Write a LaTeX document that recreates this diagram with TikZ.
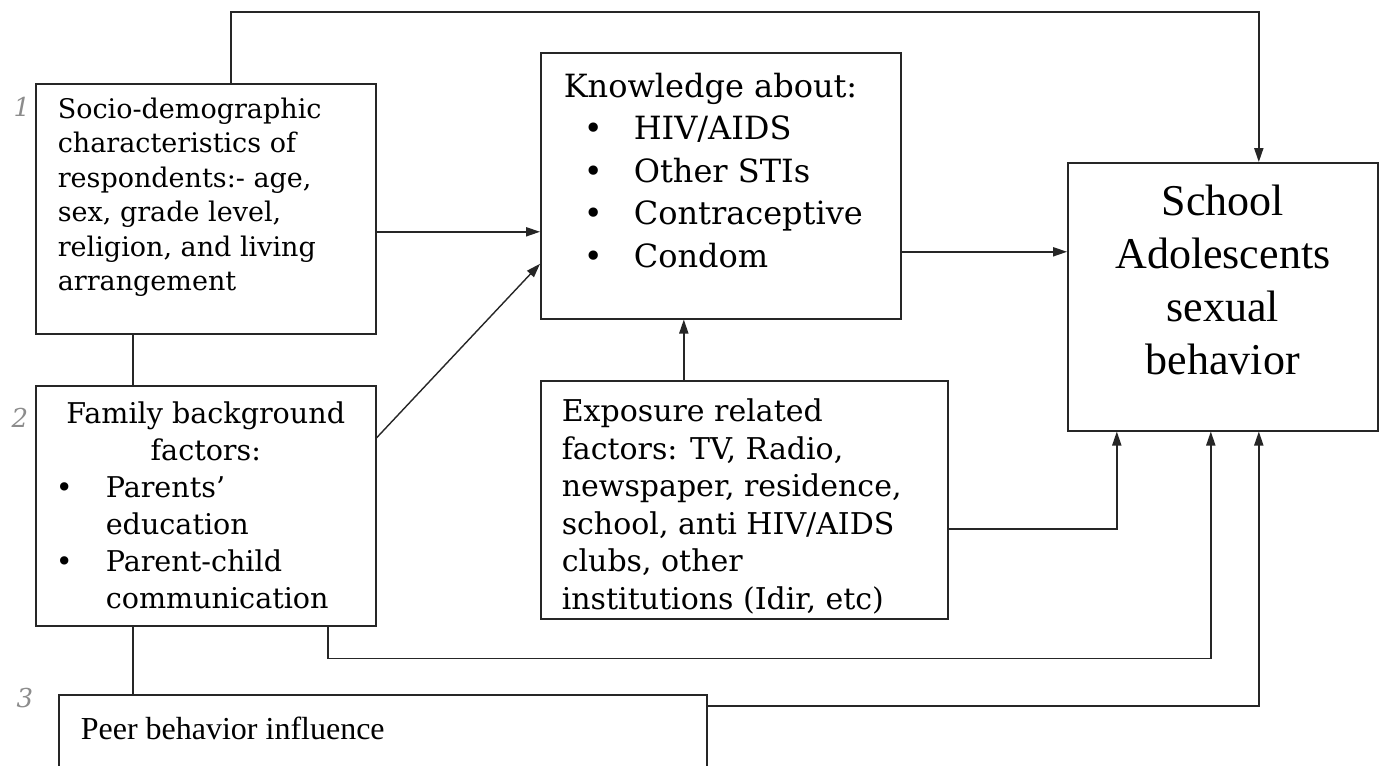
\documentclass[tikz,border=0pt]{standalone}
\usepackage{fontspec}
\setmainfont{DejaVu Serif}
\newfontfamily\timesfont{Liberation Serif}
\usetikzlibrary{arrows.meta,positioning,calc}

\tikzset{
  box/.style={draw=black!85, line width=0.8pt, anchor=north west, inner sep=0pt},
  arr/.style={draw=black!85, line width=0.7pt, -{Triangle[length=7pt,width=4.6pt]}},
  link/.style={draw=black!85, line width=0.7pt},
  hand/.style={text=black!45, font=\itshape\fontsize{13}{13}\selectfont}
}

\begin{document}
\begin{tikzpicture}[x=0.5pt, y=-0.5pt]
\useasboundingbox (0,0) rectangle (1385,765);
\clip (0,0) rectangle (1385,765);
\fill[white] (0,0) rectangle (1385,765);

% factor boxes
\node[box, inner xsep=11pt, inner ysep=7pt] (socio) at (35,83)
  {\parbox[t][111pt][t]{148pt}{\fontsize{13.5}{17.25}\selectfont\raggedright
   Socio-demographic\\ characteristics of\\ respondents:- age,\\ sex, grade level,\\ religion, and living\\ arrangement}};
\node[box, inner xsep=0pt, inner ysep=8pt] (family) at (35,385)
  {\parbox[t][104pt][t]{170pt}{\fontsize{14.3}{18.5}\selectfont\raggedright
   \makebox[170pt]{Family background}\\
   \makebox[170pt]{factors:}\\
   \hspace*{10pt}\makebox[25pt][l]{•}Parents’\\
   \hspace*{35pt}education\\
   \hspace*{10pt}\makebox[25pt][l]{•}Parent-child\\
   \hspace*{35pt}communication}};
\node[box, inner xsep=11pt, inner ysep=11pt] (peer) at (58,694)
  {\parbox[t][78pt][t]{302pt}{\timesfont\fontsize{16}{19}\selectfont\raggedright
   Peer behavior influence}};
\node[box, inner xsep=11.5pt, inner ysep=10pt] (know) at (540,52)
  {\parbox[t][113pt][t]{157pt}{\fontsize{16}{21.25}\selectfont\raggedright
   Knowledge about:\\
   \makebox[35pt][l]{\hspace{10pt}•}HIV/AIDS\\
   \makebox[35pt][l]{\hspace{10pt}•}Other STIs\\
   \makebox[35pt][l]{\hspace{10pt}•}Contraceptive\\
   \makebox[35pt][l]{\hspace{10pt}•}Condom}};
\node[box, inner xsep=10.5pt, inner ysep=9pt] (expo) at (540,380)
  {\parbox[t][101pt][t]{182.5pt}{\fontsize{15}{18.75}\selectfont\raggedright
   Exposure related\\ factors: TV, Radio,\\ newspaper, residence,\\ school, anti HIV/AIDS\\ clubs, other\\ institutions (Idir, etc)}};
\node[box, inner xsep=0pt, inner ysep=11pt] (school) at (1067,162)
  {\parbox[t][112pt][t]{155pt}{\timesfont\fontsize{22}{26.5}\selectfont\centering
   School\\ Adolescents\\ sexual\\ behavior}};

% hand-written numbers
\node[hand] (n1) at (22,107) {1};
\node[hand] (n2) at (20,418) {2};
\node[hand] (n3) at (25,698) {3};

% connectors
\draw[link] ([xshift=-36.5pt]socio.south) -- ([xshift=-36.5pt]socio.south |- family.north);
\draw[link] ([xshift=-36.5pt]family.south) -- ([xshift=-36.5pt]family.south |- peer.north);
\draw[arr] ([xshift=12.5pt]socio.north) -- ++(0,-71) -| ([xshift=18pt]school.north);
\draw[arr] ([yshift=-11.5pt]socio.east) -- ([yshift=-11.5pt]socio.east -| know.west);
\draw[arr] ([yshift=34pt]family.east) -- ([yshift=-39pt]know.west);
\draw[arr] ([yshift=-33pt]know.east) -- ([yshift=-33pt]know.east -| school.west);
\draw[arr] ([xshift=-18.5pt]know.south |- expo.north) -- ([xshift=-18.5pt]know.south);
\draw[arr] ([yshift=-14.5pt]expo.east) -| ([xshift=-53pt]school.south);
\draw[arr] ([xshift=61pt]family.south) -- ++(0,32) -| ([xshift=-6pt]school.south);
\draw[arr] ([yshift=-6pt]peer.north east) -| ([xshift=18pt]school.south);
\end{tikzpicture}
\end{document}
